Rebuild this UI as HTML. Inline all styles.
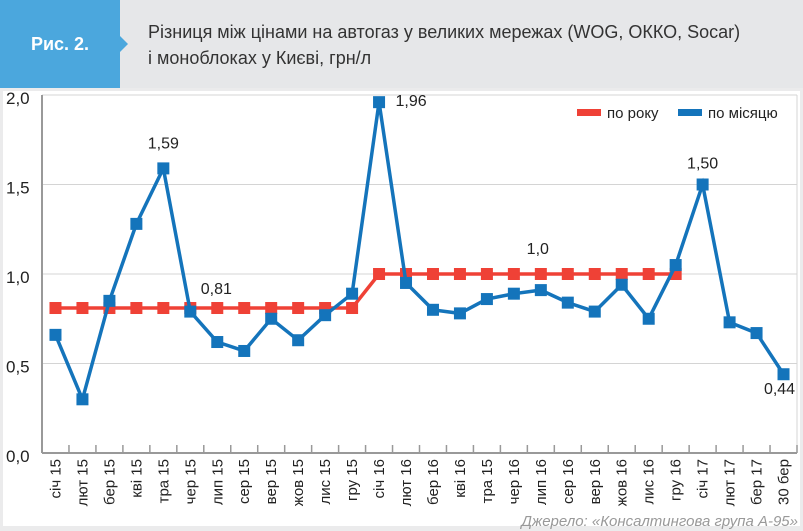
<!DOCTYPE html>
<html><head><meta charset="utf-8"><style>
body{margin:0;width:803px;height:531px;background:#ebebec;font-family:"Liberation Sans",sans-serif;overflow:hidden;position:relative}
#hdr{position:absolute;left:0;top:0;width:803px;height:88px;background:#e6e7e9}
#tag{position:absolute;left:0;top:0;width:120px;height:88px;background:#4ba7dd;color:#fff;font-weight:bold;font-size:18px;line-height:88px;text-align:center}
#arrow{position:absolute;left:120px;top:36px;width:0;height:0;border-top:8px solid transparent;border-bottom:8px solid transparent;border-left:8px solid #4ba7dd}
#title{position:absolute;left:148px;top:19px;font-size:18px;line-height:26px;color:#333}
#panel{position:absolute;left:3px;top:91px;width:797px;height:435px;background:#fff}
</style></head><body>
<div id="hdr"></div>
<div id="tag">Рис. 2.</div>
<div id="arrow"></div>
<div id="title">Різниця між цінами на автогаз у великих мережах (WOG, ОККО, Socar)<br>і моноблоках у Києві, грн/л</div>
<div id="panel"></div>
<svg id="chart" width="803" height="531" style="position:absolute;left:0;top:0"></svg>
<script>
const categories=["січ 15","лют 15","бер 15","кві 15","тра 15","чер 15","лип 15","сер 15","вер 15","жов 15","лис 15","гру 15","січ 16","лют 16","бер 16","кві 16","тра 15","чер 16","лип 16","сер 16","вер 16","жов 16","лис 16","гру 16","січ 17","лют 17","бер 17","30 бер"];
const monthly=[0.66,0.30,0.85,1.28,1.59,0.79,0.62,0.57,0.75,0.63,0.77,0.89,1.96,0.95,0.80,0.78,0.86,0.89,0.91,0.84,0.79,0.94,0.75,1.05,1.50,0.73,0.67,0.44];
const yearly=[0.81,0.81,0.81,0.81,0.81,0.81,0.81,0.81,0.81,0.81,0.81,0.81,1.0,1.0,1.0,1.0,1.0,1.0,1.0,1.0,1.0,1.0,1.0,1.0];
const yTicks=[0,0.5,1.0,1.5,2.0];
const yTickLabels=["0,0","0,5","1,0","1,5","2,0"];
const annotations=[[4,"1,59",0,-20],[12,"1,96",32,4],[24,"1,50",0,-16],[27,"0,44",-4,20],[5,"0,81",26,-14],[19,"1,0",-30,-20]];
const NS="http://www.w3.org/2000/svg";
const svg=document.getElementById('chart');
const L=42,R=797,T=95,B=453;
const step=(R-L)/categories.length;
const x=i=>L+step*(i+0.5);
const y=v=>B-(v/2)*(B-T);
function mk(t,a){const e=document.createElementNS(NS,t);for(const k in a)e.setAttribute(k,a[k]);svg.appendChild(e);return e;}
yTicks.forEach((v,i)=>{
  const g=mk('line',{x1:L,x2:R,y1:y(v),y2:y(v),stroke:i==0?'#999':'#d4d4d4','stroke-width':i==0?2:1});
  
  
  const t=mk('text',{x:6,y:y(v)+9,'font-size':17,fill:'#222','font-family':'Liberation Sans'});
  t.textContent=yTickLabels[i];
  
  
});
const ax=mk('line',{x1:L,x2:L,y1:T,y2:B,stroke:'#999','stroke-width':2});


const rb=mk('line',{x1:R,x2:R,y1:T,y2:B,stroke:'#d4d4d4','stroke-width':1});


categories.forEach((c,i)=>{
  const tk=mk('line',{x1:L+step*(i+1),x2:L+step*(i+1),y1:B-8,y2:B,stroke:'#999','stroke-width':1.5});
  
  
  const t=mk('text',{x:0,y:0,'font-size':15,fill:'#222','text-anchor':'end','font-family':'Liberation Sans',transform:`translate(${x(i)+5},${B+6}) rotate(-90)`});
  t.textContent=c;
  
  
});
function series(vals,color,name){
  const p=mk('polyline',{points:vals.map((v,i)=>x(i)+','+y(v)).join(' '),fill:'none',stroke:color,'stroke-width':3.5});
  
  
  vals.forEach((v,i)=>{
    const r=mk('rect',{x:x(i)-6,y:y(v)-6,width:12,height:12,fill:color});
    
    
  });
}
series(yearly,'#ef4136','yearly');
series(monthly,'#1474bb','monthly');
annotations.forEach(a=>{
  const arr=a[1]=="0,81"||a[1]=="1,0"?yearly:monthly;
  const t=mk('text',{x:x(a[0])+a[2],y:y(arr[a[0]])+a[3],'font-size':16,fill:'#222','text-anchor':'middle','font-family':'Liberation Sans'});
  t.textContent=a[1];
  
  
});
[[577,'#ef4136','по року'],[678,'#1474bb','по місяцю']].forEach(l=>{
  const r=mk('rect',{x:l[0],y:109,width:24,height:7,fill:l[1]});
  
  
  const t=mk('text',{x:l[0]+30,y:118,'font-size':15,fill:'#222','font-family':'Liberation Sans'});
  t.textContent=l[2];
  
  
});
const s=mk('text',{x:798,y:526,'font-size':15,fill:'#999','font-style':'italic','text-anchor':'end','font-family':'Liberation Sans'});
s.textContent='Джерело: «Консалтингова група А-95»';


</script>
</body></html>
